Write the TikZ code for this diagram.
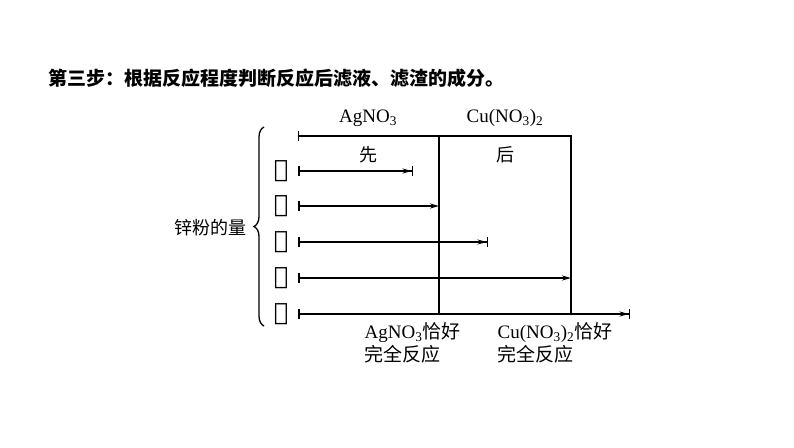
\documentclass[tikz,border=0pt]{standalone}
\usepackage{fontspec}
\setmainfont{Liberation Serif}
\newfontfamily\cjk{Noto Sans CJK SC}
\newfontfamily\sym{DejaVu Serif}
\usetikzlibrary{arrows.meta, decorations.pathreplacing, positioning}

\begin{document}
\begin{tikzpicture}[x=1pt, y=-1pt, line width=1.3pt,% styles used in image code
         > = {Stealth[length=9pt,width=5pt]},
num/.style = {font=\sym\fontsize{24}{24}\selectfont, inner sep=0pt},
lbl/.style = {font=\fontsize{19}{23}\selectfont, inner sep=0pt, align=left},
run/.style = {line width=1.5pt}
                        ]
	\useasboundingbox (0,0) rectangle (794,447);
	% title
	\node[font=\cjk\bfseries\fontsize{19}{19}\selectfont, anchor=west] (title) at (45,78)
		{第三步：根据反应程度判断反应后滤液、滤渣的成分。};

	% frame
	\coordinate (top0) at (298,136);
	\coordinate (topA) at (439,136);
	\coordinate (topB) at (571,136);
	\coordinate (botA) at (439,314);
	\coordinate (botB) at (571,314);
	\draw[{Bar[width=10pt]}-] (top0) -- (topB) -- (botB);
	\draw (topA) -- (botA);

	\node[lbl] (ag) at (368,118) {AgNO\textsubscript{3}};
	\node[lbl] (cu) at (505,118) {Cu(NO\textsubscript{3})\textsubscript{2}};
	\node[lbl, font=\cjk\fontsize{18}{18}\selectfont] (xian) at (368,155) {先};
	\node[lbl, font=\cjk\fontsize{18}{18}\selectfont] (hou) at (505,155) {后};

	% rows
	\foreach \i/\y in {1/171,2/206,3/242,4/278,5/314}{
		\node[num] (n\i) at (281,\y) {\ifcase\i\or ①\or ②\or ③\or ④\or ⑤\fi};
		\coordinate (s\i) at (298,\y);
	}
	\draw[run, {Bar[width=10pt]}-{Stealth[length=9pt,width=5pt] Bar[width=10pt]}] (s1) -- ++(115,0) coordinate (e1);
	\draw[run, {Bar[width=10pt]}->] (s2) -- (botA |- s2);
	\draw[run, {Bar[width=10pt]}-{Stealth[length=9pt,width=5pt] Bar[width=10pt]}] (s3) -- ++(190,0) coordinate (e3);
	\draw[run, {Bar[width=10pt]}->] (s4) -- (botB |- s4);
	\draw[run, {Bar[width=10pt]}-{Stealth[length=9pt,width=5pt] Bar[width=10pt]}] (s5) -- ++(332,0) coordinate (e5);

	% brace
	\draw[decorate, decoration={brace, amplitude=10pt}] (264,326) -- (264,127);
	\node[lbl, font=\cjk\fontsize{18}{18}\selectfont, anchor=east] (zn) at (247,228) {锌粉的量};

	% bottom labels
	\node[lbl, anchor=north west] (endA) at (364,322) {AgNO\textsubscript{3}{\cjk 恰好}\\{\cjk 完全反应}};
	\node[lbl, anchor=north west] (endB) at (497,322) {Cu(NO\textsubscript{3})\textsubscript{2}{\cjk 恰好}\\{\cjk 完全反应}};
\end{tikzpicture}
\end{document}
